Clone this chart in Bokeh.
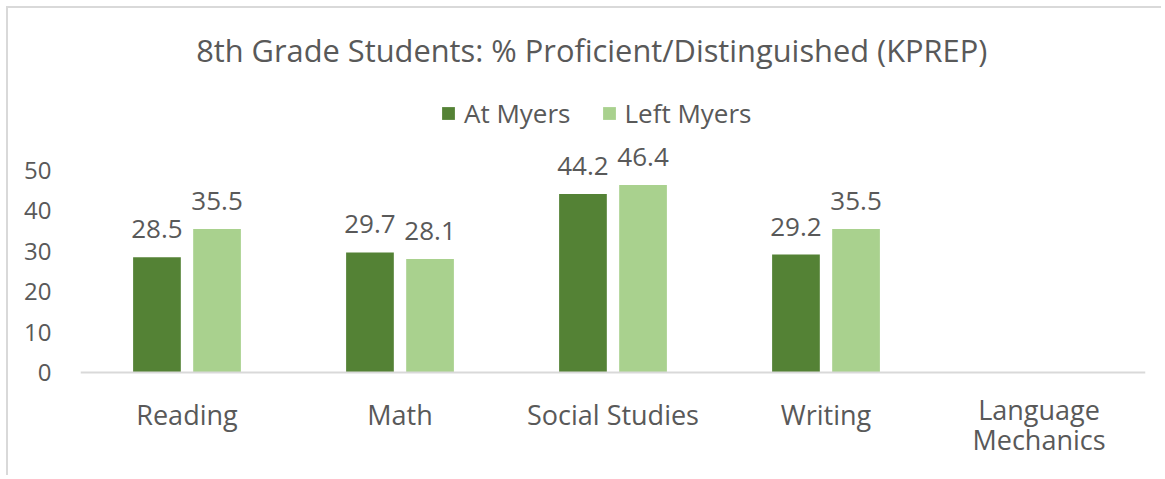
from bokeh.plotting import figure
from bokeh.models import (ColumnDataSource, FactorRange, Range1d, FixedTicker,
                          Legend, LegendItem, Label, CustomJSTickFormatter)
from bokeh.transform import dodge
from bokeh.core.properties import value
from bokeh.embed import file_html
from bokeh.resources import INLINE

categories = ["Reading", "Math", "Social Studies", "Writing", "Language Mechanics"]
at_myers = [28.5, 29.7, 44.2, 29.2, None]
left_myers = [35.5, 28.1, 46.4, 35.5, None]
series_names = ["At Myers", "Left Myers"]
y_ticks = [0, 10, 20, 30, 40, 50]
title_text = "8th Grade Students: % Proficient/Distinguished (KPREP)"

DARK = "#548235"
LIGHT = "#A9D18E"
TXT = "#595959"
FONT = "Open Sans"


def src(vals):
    cats = [c for c, v in zip(categories, vals) if v is not None]
    vs = [v for v in vals if v is not None]
    return ColumnDataSource(dict(cat=cats, val=vs, lab=[f"{v:.1f}" for v in vs]))


s_at = src(at_myers)
s_left = src(left_myers)

p = figure(x_range=FactorRange(*categories), y_range=Range1d(-26.0, 90.1),
           width=1155, height=469, output_backend="svg", toolbar_location=None,
           min_border_left=72, min_border_right=18, min_border_top=0,
           min_border_bottom=0)
p.styles = {"margin-left": "6px", "margin-top": "6px",
            "border-left": "2px solid #D9D9D9", "border-top": "2px solid #D9D9D9"}
p.outline_line_color = None
p.grid.visible = False
p.background_fill_color = "white"
p.border_fill_color = "white"

off = 0.141
bw = 0.224
r1 = p.vbar(x=dodge("cat", -off, range=p.x_range), top="val", width=bw,
            source=s_at, color=DARK, line_color=None)
r2 = p.vbar(x=dodge("cat", off, range=p.x_range), top="val", width=bw,
            source=s_left, color=LIGHT, line_color=None)

for s, o in ((s_at, -off), (s_left, off)):
    p.text(x=dodge("cat", o, range=p.x_range), y="val", text="lab", source=s,
           text_align="center", text_baseline="alphabetic", y_offset=-28,
           text_font=value(FONT), text_font_size="26px", text_color=TXT)

# axes
wrapped = categories[-1]
xa = p.xaxis[0]
xa.fixed_location = 0
xa.axis_line_color = "#D9D9D9"
xa.axis_line_width = 2
xa.major_tick_line_color = None
xa.minor_tick_line_color = None
xa.major_tick_out = 0
xa.major_label_standoff = 24
xa.major_label_text_font = FONT
xa.major_label_text_font_size = "27px"
xa.major_label_text_color = TXT
xa.formatter = CustomJSTickFormatter(
    args=dict(wrapped=wrapped),
    code="return tick === wrapped ? '' : tick;")

ya = p.yaxis[0]
ya.ticker = FixedTicker(ticks=y_ticks)
ya.axis_line_color = None
ya.major_tick_line_color = None
ya.minor_tick_line_color = None
ya.major_tick_out = 0
ya.major_label_standoff = 29
ya.major_label_text_font = FONT
ya.major_label_text_font_size = "24px"
ya.major_label_text_color = TXT

# two-line category label (wrapped like the original)
last = len(categories) - 1 + 0.5
for txt, yy in zip(wrapped.split(" "), (-9.2, -16.5)):
    p.add_layout(Label(x=last, y=yy, text=txt, text_align="center",
                       text_baseline="alphabetic", text_font=FONT,
                       text_font_size="27px", text_color=TXT))

legend = Legend(items=[LegendItem(label=series_names[0], renderers=[r1]),
                       LegendItem(label=series_names[1], renderers=[r2])],
                orientation="horizontal", location=(360, 241 + 105),
                glyph_width=16, glyph_height=16, label_standoff=8, spacing=30,
                padding=0, margin=0, border_line_color=None,
                background_fill_alpha=0,
                label_text_font=FONT, label_text_font_size="26px",
                label_text_color=TXT)
p.add_layout(legend, "center")

p.add_layout(Label(x=2.40, y=79.9, text=title_text, text_align="center",
                   text_baseline="alphabetic", text_font=FONT,
                   text_font_size="30.8px", text_color=TXT))

open("out.html", "w").write(file_html(p, INLINE))
